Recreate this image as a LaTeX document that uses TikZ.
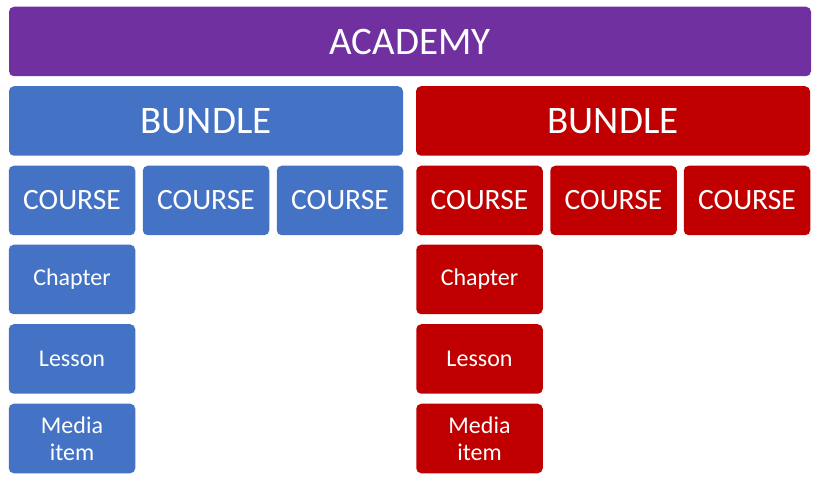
\documentclass[tikz,border=0pt]{standalone}
\usepackage{fontspec}
\setmainfont{Carlito}
\definecolor{academy}{HTML}{7030A0}
\definecolor{blueset}{HTML}{4472C4}
\definecolor{redset}{HTML}{C00000}
\begin{document}
\begin{tikzpicture}[x=1pt, y=-1pt, line join=round,
  box/.style={rounded corners=5pt, inner sep=0pt, text=white, align=center,
    minimum height=69.5pt},
  coursebox/.style={box, minimum width=126.5pt, font=\fontsize{29.5}{30}\selectfont},
  itembox/.style={box, minimum width=126.5pt, font=\fontsize{24}{27}\selectfont}]

% -----------------------
% Parameters
% -----------------------
\def\W{823}    % page width
\def\H{489}    % page height

\useasboundingbox (0,0) rectangle (\W,\H);

% -----------------------
% Top level
% -----------------------
\node[box, fill=academy, minimum width=802pt, font=\fontsize{39}{40}\selectfont]
  (academy) at (410,41.5) {ACADEMY};

% -----------------------
% Bundles
% -----------------------
\node[box, fill=blueset, minimum width=394pt, font=\fontsize{39}{40}\selectfont]
  (bundleL) at (206,121) {BUNDLE};
\node[box, fill=redset, minimum width=394pt, font=\fontsize{39}{40}\selectfont]
  (bundleR) at (613,121) {BUNDLE};

% -----------------------
% Courses
% -----------------------
\foreach \i/\x in {1/72,2/206,3/340}{
  \node[coursebox, fill=blueset] (courseL\i) at (\x,200.5) {COURSE};
}
\foreach \i/\x in {1/479.5,2/613.5,3/747}{
  \node[coursebox, fill=redset] (courseR\i) at (\x,200.5) {COURSE};
}

% -----------------------
% Contents of the first course
% -----------------------
\foreach \s/\c in {L/blueset,R/redset}{
  \path (course\s1) ++(0,79) node[itembox, fill=\c] (chapter\s) {Chapter};
  \path (chapter\s) ++(0,79.5) node[itembox, fill=\c] (lesson\s) {Lesson};
  \path (lesson\s) ++(0,79.5) node[itembox, fill=\c] (media\s) {Media\\item};
}

\end{tikzpicture}
\end{document}
